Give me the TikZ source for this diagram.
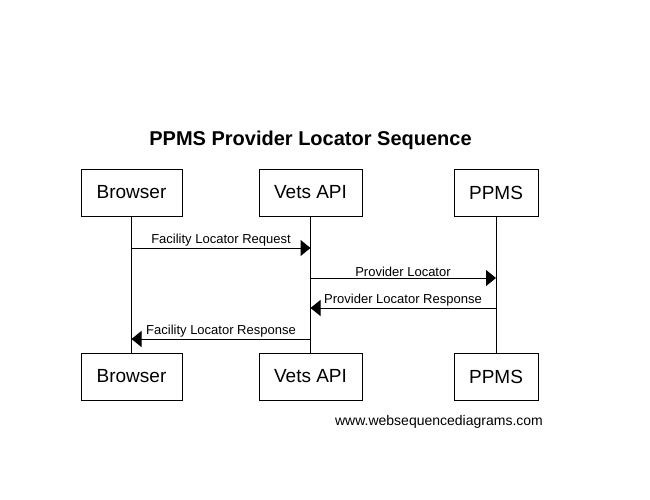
\documentclass[tikz,border=0pt]{standalone}
\usepackage{fontspec}
\setmainfont{Liberation Sans}
\usepackage{tikz}
\usetikzlibrary{arrows.meta}

\begin{document}
\begin{tikzpicture}[x=1pt,y=-1pt,line width=1pt]
  \useasboundingbox (0,0) rectangle (650,500);

    \tikzstyle{every node}=[draw,rectangle,minimum height=47pt,inner sep=0pt,font=\fontsize{19}{22}\selectfont]
    \node[minimum width=101pt](browser) at (131.5,192.5){Browser};
    \node[minimum width=103pt](vets) at (310.5,192.5){Vets API};
    \node[minimum width=84pt](ppms) at (496,192.5){PPMS};
    \node[minimum width=101pt](browser') at (131.5,376.5){Browser};
    \node[minimum width=103pt](vets') at (310.5,376.5){Vets API};
    \node[minimum width=84pt](ppms') at (496,376.5){PPMS};

    % lifelines
    \draw(browser)--(browser');
    \draw(vets)--(vets');
    \draw(ppms)--(ppms');

  \tikzstyle{every node}=[inner sep=0pt]
  \tikzstyle{msg}=[-{Triangle[length=10pt,width=16pt]}]

    \coordinate (b1) at (131.5,248);
    \coordinate (v1) at (310.5,248);
    \coordinate (v2) at (310.5,278);
    \coordinate (p2) at (496,278);
    \coordinate (p3) at (496,308);
    \coordinate (v3) at (310.5,308);
    \coordinate (v4) at (310.5,339);
    \coordinate (b4) at (131.5,339);

    \draw[msg](b1)--(v1);
    \draw[msg](v2)--(p2);
    \draw[msg](p3)--(v3);
    \draw[msg](v4)--(b4);

    % message labels
    \node[anchor=south,font=\fontsize{13}{15}\selectfont](m1) at (221,247){Facility Locator Request};
    \node[anchor=south,font=\fontsize{13}{15}\selectfont](m2) at (403,277){Provider Locator};
    \node[anchor=south,font=\fontsize{13}{15}\selectfont](m3) at (403,307){Provider Locator Response};
    \node[anchor=south,font=\fontsize{13}{15}\selectfont](m4) at (221,338){Facility Locator Response};

    \node[font=\bfseries\fontsize{20}{24}\selectfont](title) at (310.5,140){PPMS Provider Locator Sequence};
    \node[font=\fontsize{14}{17}\selectfont](mark) at (439,421.5){www.websequencediagrams.com};

\end{tikzpicture}
\end{document}
